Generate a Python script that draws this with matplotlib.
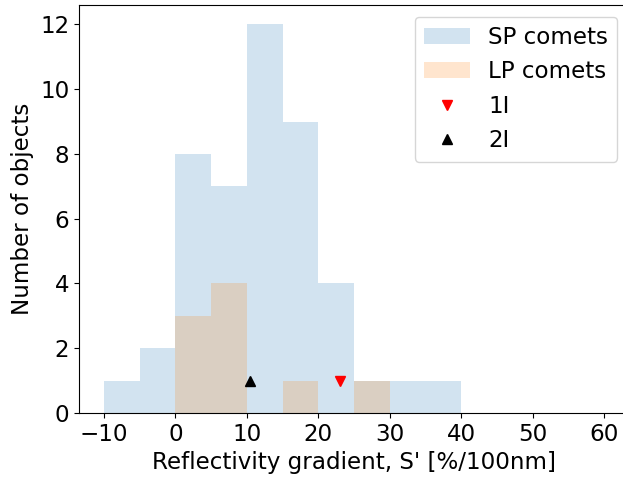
import matplotlib
matplotlib.use("Agg")
import matplotlib.pyplot as plt
from matplotlib.ticker import MultipleLocator
import numpy as np

# histogram counts, bins of 5 %/100nm
bin_edges = [-10, -5, 0, 5, 10, 15, 20, 25, 30, 35, 40]
sp_counts = [1, 2, 8, 7, 12, 9, 4, 1, 1, 1]
lp_counts = [0, 0, 3, 4, 0, 1, 0, 1, 0, 0]

# interstellar objects
oumuamua_x, oumuamua_y = 23.0, 1
borisov_x, borisov_y = 10.5, 1

plt.rcParams['font.size'] = 16.6

fig = plt.figure(figsize=(6.23, 4.78), dpi=100)
ax = fig.add_axes([79 / 623, 65 / 478, 550 / 623, 408 / 478])

centers = np.array(bin_edges[:-1]) + 2.5
ax.hist(centers, bins=bin_edges, weights=sp_counts, color='tab:blue', alpha=0.2, label='SP comets')
ax.hist(centers, bins=bin_edges, weights=lp_counts, color='tab:orange', alpha=0.2, label='LP comets')
ax.plot(oumuamua_x, oumuamua_y, 'v', color='red', markersize=7, linestyle='none', label='1I')
ax.plot(borisov_x, borisov_y, '^', color='black', markersize=7, linestyle='none', label='2I')

ax.set_xlim(-13.5, 63.5)
ax.set_ylim(0, 12.6)
ax.xaxis.set_major_locator(MultipleLocator(10))
ax.yaxis.set_major_locator(MultipleLocator(2))
ax.set_xlabel("Reflectivity gradient, S' [%/100nm]")
ax.set_ylabel('Number of objects')
ax.legend(loc='upper right')

fig.savefig('out.png', dpi=100)
